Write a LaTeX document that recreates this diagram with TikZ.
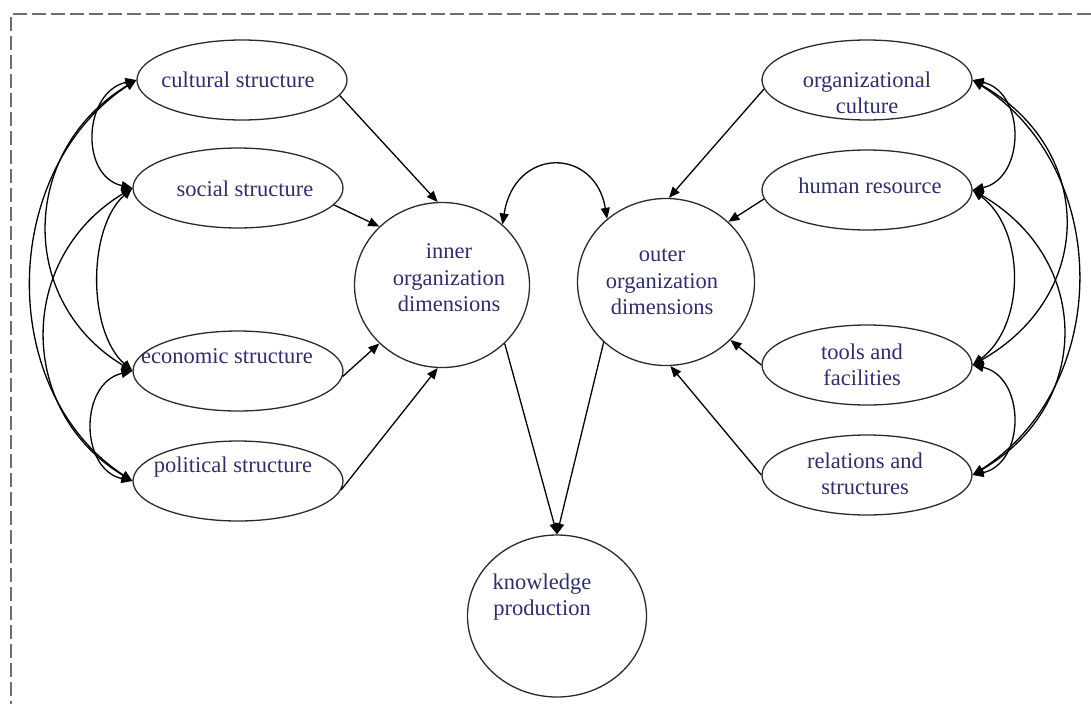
\documentclass[tikz,border=0pt]{standalone}
\usepackage{fontspec}
\setmainfont{Liberation Serif}
\usetikzlibrary{shapes.geometric,arrows.meta}
\definecolor{txt}{HTML}{2E2E6A}
\definecolor{edge}{HTML}{2A2A2A}
\definecolor{framec}{HTML}{6E6E6E}
\begin{document}
\begin{tikzpicture}[x=1pt,y=-1pt,
  oval/.style={ellipse, draw=edge, line width=1.3pt, minimum width=210pt, minimum height=80pt, inner sep=0pt},
  dim/.style={ellipse, draw=edge, line width=1.3pt, inner sep=0pt},
  lbl/.style={text=txt, font=\fontsize{22.5}{26.5}\selectfont, align=center, inner sep=0pt},
  arr/.style={draw=black, line width=1.3pt, -{Triangle[length=11pt,width=9pt]}},
  biarr/.style={draw=black, line width=1.3pt, {Triangle[length=11pt,width=9pt]}-{Triangle[length=11pt,width=9pt]}},
  frame/.style={draw=framec, line width=2.2pt, dash pattern=on 14pt off 5pt}]
\useasboundingbox (0,0) rectangle (1091,704);
\coordinate (f0) at (11,14);
\coordinate (f1) at (1091,14);
\coordinate (f2) at (11,704);
\draw[frame] (f1) -- (f0) -- (f2);

\node[oval] (cult) at (242,80) {};
\node[oval] (soc) at (238,188) {};
\node[oval] (eco) at (238,371) {};
\node[oval] (pol) at (238,481) {};
\node[oval] (orgc) at (867,80) {};
\node[oval] (hum) at (867,190) {};
\node[oval] (tool) at (867,365) {};
\node[oval] (rel) at (867,475) {};
\node[dim, minimum width=175pt, minimum height=165pt] (inner) at (442,285) {};
\node[dim, minimum width=177pt, minimum height=167pt] (outer) at (666,282) {};
\node[dim, minimum width=179pt, minimum height=162pt] (know) at (557,616) {};

\node[lbl] (tcult) at (238,80) {cultural structure};
\node[lbl] (tsoc) at (245,189) {social structure};
\node[lbl] (teco) at (227,356) {economic structure};
\node[lbl] (tpol) at (233,467) {political structure};
\node[lbl] (torgc) at (867,93) {organizational\\culture};
\node[lbl] (thum) at (870,186) {human resource};
\node[lbl] (ttool) at (862,365) {tools and\\facilities};
\node[lbl] (trel) at (865,474) {relations and\\structures};
\node[lbl] (tinner) at (449,278) {inner\\organization\\dimensions};
\node[lbl] (touter) at (662,282) {outer\\organization\\dimensions};
\node[lbl] (tknow) at (542,597) {knowledge\\production};

\draw[arr] (cult.-9) -- (inner.93);
\draw[arr] (soc.-10) -- (inner.137);
\draw[arr] (eco.-3) -- (inner.-137);
\draw[arr] (pol.-5) -- (inner.-93);
\draw[arr] (orgc.185) -- (outer.88);
\draw[arr] (hum.185) -- (outer.44);
\draw[arr] (tool.180) -- (outer.-42);
\draw[arr] (rel.180) -- (outer.-87);
\draw[arr] (inner.-43) -- (know.90);
\draw[arr] (outer.-136) -- (know.90);
\draw[biarr] (inner.45) .. controls +(12,-78) and +(-12,-72) .. (outer.133);

\draw[biarr] (cult.west) .. controls +(-53,12) and +(-53,-12) .. (soc.west);
\draw[biarr] (soc.west) .. controls +(-45,40) and +(-45,-40) .. (eco.west);
\draw[biarr] (eco.west) .. controls +(-53,12) and +(-53,-12) .. (pol.west);
\draw[biarr] (cult.west) .. controls +(-116,70) and +(-116,-70) .. (eco.west);
\draw[biarr] (soc.west) .. controls +(-116,70) and +(-116,-70) .. (pol.west);
\draw[biarr] (cult.west) .. controls +(-137,90) and +(-137,-90) .. (pol.west);

\draw[biarr] (orgc.east) .. controls +(53,12) and +(53,-12) .. (hum.east);
\draw[biarr] (hum.east) .. controls +(53,40) and +(53,-40) .. (tool.east);
\draw[biarr] (tool.east) .. controls +(53,12) and +(53,-12) .. (rel.east);
\draw[biarr] (orgc.east) .. controls +(123,70) and +(123,-70) .. (tool.east);
\draw[biarr] (hum.east) .. controls +(120,70) and +(120,-70) .. (rel.east);
\draw[biarr] (orgc.east) .. controls +(140,90) and +(140,-90) .. (rel.east);
\end{tikzpicture}
\end{document}
